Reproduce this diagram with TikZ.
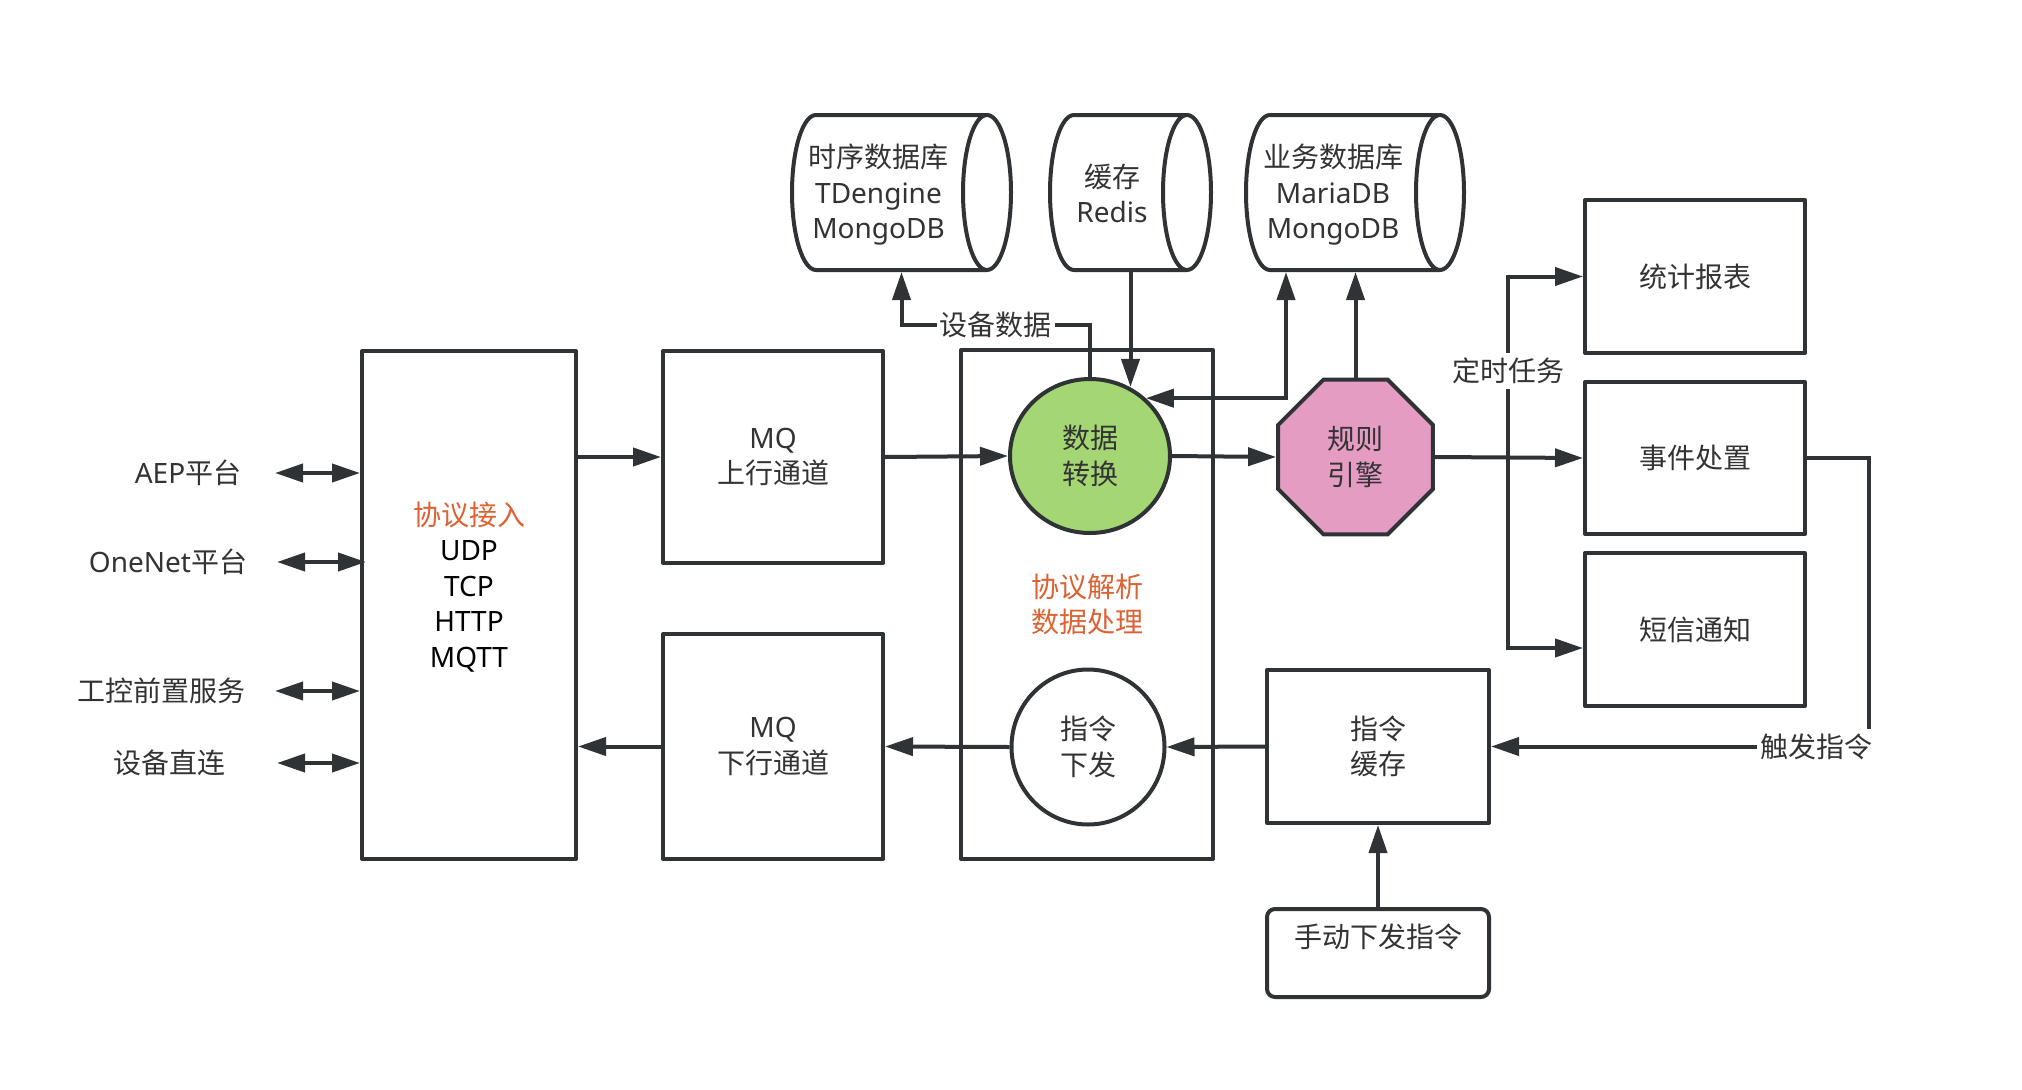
\documentclass[tikz,border=0pt]{standalone}
\usepackage{fontspec}
\setmainfont{Noto Sans}
\newfontfamily\lat{Noto Sans}
\newfontfamily\cjk{Noto Sans CJK SC}
\usetikzlibrary{arrows.meta,shapes.geometric,calc}
\definecolor{ink}{HTML}{303336}
\definecolor{txt}{HTML}{333333}
\definecolor{accent}{HTML}{DD6131}
\definecolor{convfill}{HTML}{A4D774}
\definecolor{rulefill}{HTML}{E59CC3}

\begin{document}
\begin{tikzpicture}[x=1pt,y=-1pt,
  every node/.style={font=\cjk\fontsize{28pt}{35.5pt}\selectfont, text=txt, align=center, inner sep=0pt},
  box/.style={draw=ink, line width=4pt, line join=round, rectangle, outer sep=2pt},
  cylf/.style={minimum height=155pt, inner sep=0pt, outer sep=0pt},
  arr/.style={draw=ink, line width=4pt, -{Triangle[length=28pt,width=18pt]}},
  dblarr/.style={draw=ink, line width=4pt, {Triangle[length=28pt,width=18pt]}-{Triangle[length=28pt,width=18pt]}},
  lbl/.style={fill=white, inner xsep=3pt, inner ysep=5pt},
  cylline/.style={draw=ink, line width=4pt, line join=round}
]
\fill[white] (0,0) rectangle (2022,1090);
\useasboundingbox (0,0) rectangle (2022,1090);

% ---------- databases ----------
\node[cylf, minimum width=219pt] (tsdb)  at (901.5,192.5) {};
\node[cylf, minimum width=161pt] (redis) at (1130.5,192.5) {};
\node[cylf, minimum width=218pt] (bizdb) at (1355,192.5) {};
\foreach \c in {tsdb,redis,bizdb}{
  \draw[cylline]
    ([xshift=-24pt]\c.north east) -- ([xshift=24pt]\c.north west)
    arc[start angle=90, end angle=270, x radius=24pt, y radius=77.5pt]
    -- ([xshift=-24pt]\c.south east)
    arc[start angle=-90, end angle=90, x radius=24pt, y radius=77.5pt]
    arc[start angle=90, end angle=270, x radius=24pt, y radius=77.5pt];
}
\node (tsdb-t)  at (878.5,195) {时序数据库\\{\lat TDengine}\\{\lat MongoDB}};
\node (redis-t) at (1112,193.5) {缓存\\{\lat Redis}};
\node (bizdb-t) at (1333,195) {业务数据库\\{\lat MariaDB}\\{\lat MongoDB}};

% ---------- access layer ----------
\node[box, minimum width=214pt, minimum height=508pt] (proto) at (469,605) {};
\node (proto-t) at (469,587) {\textcolor{accent}{协议接入}\\{\lat\color{black}UDP}\\{\lat\color{black}TCP}\\{\lat\color{black}HTTP}\\{\lat\color{black}MQTT}};

\node[box, minimum width=220pt, minimum height=212pt] (mqup) at (773,457) {{\lat MQ}\\上行通道};
\node[box, minimum width=220pt, minimum height=225pt] (mqdown) at (773,746.5) {{\lat MQ}\\下行通道};

% ---------- processing ----------
\node[box, minimum width=252pt, minimum height=509pt, text=accent] (proc) at (1087,604.5) {协议解析\\数据处理};
\node[draw=ink, line width=4pt, fill=convfill, ellipse, minimum width=160pt, minimum height=154pt, outer sep=2pt] (conv) at (1090,456) {数据\\转换};
\node[draw=ink, line width=4pt, fill=white, ellipse, minimum width=153pt, minimum height=155pt, outer sep=2pt] (cmd) at (1088,747) {指令\\下发};
\node[draw=ink, line width=4pt, fill=rulefill, regular polygon, regular polygon sides=8, minimum size=167.5pt, outer sep=2pt] (rule) at (1355.5,457) {规则\\引擎};

% ---------- outputs ----------
\node[box, minimum width=220pt, minimum height=153pt] (report) at (1695,276.5) {统计报表};
\node[box, minimum width=220pt, minimum height=152pt] (event)  at (1695,458)   {事件处置};
\node[box, minimum width=220pt, minimum height=153pt] (sms)    at (1695,629.5) {短信通知};
\node[box, minimum width=222pt, minimum height=153pt] (cache)  at (1378,746.5) {指令\\缓存};
\node[box, rounded corners=8pt, minimum width=222pt, minimum height=88pt] (manual) at (1378,953) {};
\node (manual-t) at (1378,937) {手动下发指令};

% ---------- external sources ----------
\node (aep)    at (188,473) {{\lat AEP}平台};
\node (onenet) at (168,562) {{\lat OneNet}平台};
\node (ics)    at (161,691) {工控前置服务};
\node (direct) at (169,763) {设备直连};
\coordinate (aep-in)    at (275,473);
\coordinate (onenet-in) at (277,562);
\coordinate (ics-in)    at (275,691);
\coordinate (direct-in) at (277,763);
\draw[dblarr] (aep-in) -- (aep-in -| proto.west);
\draw[dblarr] (onenet-in) -- ([xshift=6pt]onenet-in -| proto.west);
\draw[dblarr] (ics-in) -- (ics-in -| proto.west);
\draw[dblarr] (direct-in) -- (direct-in -| proto.west);

% ---------- uplink ----------
\draw[arr] (proto.east |- mqup.west) -- (mqup.west);
\draw[arr] (mqup.east) -- (conv.west);
\draw[arr] (conv.east) -- (rule.west);
\draw[arr] (rule.east) -- (event.west);
\coordinate (tap) at (1508,458);
\draw[arr] (tap) |- (report.west) node[pos=0.24, lbl] (timer) {定时任务};
\draw[arr] (tap) |- ([yshift=-18.5pt]sms.west);

% ---------- storage links ----------
\draw[arr] (conv.north) -- (conv.north |- 0,325) -| ([yshift=-2pt]tsdb.south) node[pos=0.25, lbl] (devdata) {设备数据};
\draw[arr] ([yshift=-2pt]redis.south) -- (redis.south |- conv.60);
\draw[dblarr] (conv.46) -| ([xshift=-69pt,yshift=-2pt]bizdb.south);
\draw[arr] (rule.north) -- ([yshift=-2pt]rule.north |- bizdb.south);

% ---------- downlink ----------
\draw[arr] (event.east) -- ++(62,0) |- (cache.east) node[pos=0.57, lbl] (trigger) {触发指令};
\draw[arr] (manual.north) -- (cache.south);
\draw[arr] (cache.west) -- (cmd.east);
\draw[arr] (cmd.west) -- (mqdown.east);
\draw[arr] (mqdown.west) -- (proto.east |- mqdown.west);
\end{tikzpicture}
\end{document}
